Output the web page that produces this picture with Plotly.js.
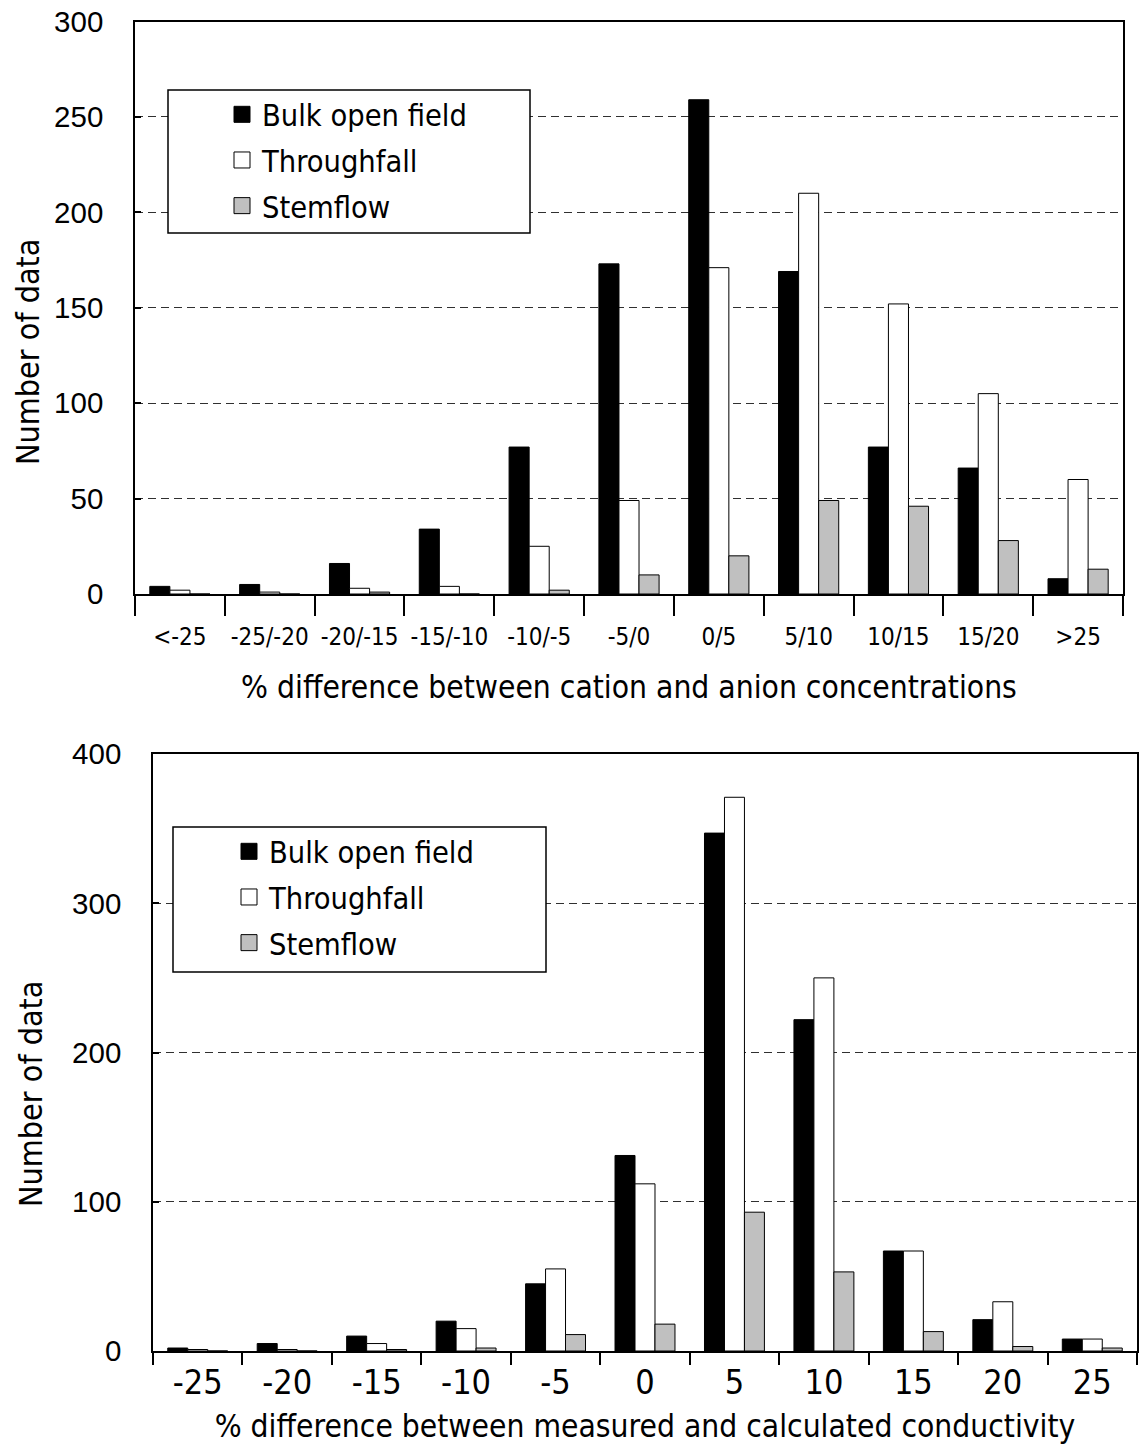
<!DOCTYPE html>
<html>
<head>
<meta charset="utf-8">
<script src="https://cdn.plot.ly/plotly-3.0.1.min.js"></script>
<style>
  html, body { margin: 0; padding: 0; background: #ffffff; }
  #chart { width: 1139px; height: 1449px; }
</style>
</head>
<body>
<div id="chart"></div>
<script>
// Ion balance: % difference between cation and anion concentrations
const ionCategories = ['<-25', '-25/-20', '-20/-15', '-15/-10', '-10/-5', '-5/0', '0/5', '5/10', '10/15', '15/20', '>25'];
const ionBulk        = [4, 5, 16, 34, 77, 173, 259, 169, 77, 66, 8];
const ionThroughfall = [2, 1, 3, 4, 25, 49, 171, 210, 152, 105, 60];
const ionStemflow    = [0, 0, 1, 0, 2, 10, 20, 49, 46, 28, 13];

// Conductivity check: % difference between measured and calculated conductivity
const condCategories = ['-25', '-20', '-15', '-10', '-5', '0', '5', '10', '15', '20', '25'];
const condBulk        = [2, 5, 10, 20, 45, 131, 347, 222, 67, 21, 8];
const condThroughfall = [1, 1, 5, 15, 55, 112, 371, 250, 67, 33, 8];
const condStemflow    = [0, 0, 1, 2, 11, 18, 93, 53, 13, 3, 2];

const seriesNames = ['Bulk open field', 'Throughfall', 'Stemflow'];
const seriesColors = ['#000000', '#ffffff', '#c0c0c0'];

const W = 1139, H = 1449;
const px = x => x / W;
const py = y => 1 - y / H;

const NARROW = '"DejaVu Sans Condensed", "Liberation Sans", sans-serif';
const REGULAR = '"Liberation Sans", Arial, sans-serif';

function barTraces(cats, values, xa, ya) {
  return values.map((v, i) => ({
    type: 'bar',
    x: cats,
    y: v,
    name: seriesNames[i],
    legendgroup: seriesNames[i] + xa,
    showlegend: false,
    xaxis: xa,
    yaxis: ya,
    marker: { color: seriesColors[i], line: { color: '#000000', width: 1 } },
    hoverinfo: 'x+y+name'
  }));
}

// Legend entries drawn as square markers so the swatches stay large
function legendTraces(xa, ya, legendId) {
  return seriesNames.map((n, i) => ({
    type: 'scatter',
    mode: 'markers',
    x: [null],
    y: [null],
    name: n,
    legendgroup: n + xa,
    legend: legendId,
    xaxis: xa,
    yaxis: ya,
    marker: { symbol: 'square', size: 16, color: seriesColors[i], line: { color: '#000000', width: 1 } },
    hoverinfo: 'skip'
  }));
}

const data = [
  ...barTraces(ionCategories, [ionBulk, ionThroughfall, ionStemflow], 'x', 'y'),
  ...legendTraces('x', 'y', 'legend'),
  ...barTraces(condCategories, [condBulk, condThroughfall, condStemflow], 'x2', 'y2'),
  ...legendTraces('x2', 'y2', 'legend2')
];

function xAxis(domain, anchor, tickSize, ticklen, labelStandoff, titleText, standoff) {
  return {
    domain: domain,
    anchor: anchor,
    type: 'category',
    tickson: 'boundaries',
    tickangle: 0,
    ticks: 'outside',
    ticklen: ticklen,
    tickwidth: 1.5,
    tickcolor: '#000000',
    ticklabelstandoff: labelStandoff,
    showline: true,
    mirror: true,
    linecolor: '#000000',
    linewidth: 1.5,
    showgrid: false,
    zeroline: false,
    tickfont: { family: NARROW, size: tickSize, color: '#000000' },
    title: { text: titleText, font: { family: NARROW, size: 31.5, color: '#000000' }, standoff: standoff },
    fixedrange: true
  };
}

function yAxis(domain, anchor, maxVal, step) {
  return {
    domain: domain,
    anchor: anchor,
    range: [0, maxVal],
    tick0: 0,
    dtick: step,
    ticks: 'inside',
    ticklen: 6,
    tickwidth: 1.5,
    tickcolor: '#000000',
    showline: true,
    mirror: true,
    linecolor: '#000000',
    linewidth: 1.5,
    showgrid: true,
    gridcolor: '#303030',
    gridwidth: 1,
    griddash: '8px,5px',
    zeroline: false,
    ticklabelstandoff: 24,
    tickfont: { family: REGULAR, size: 29.5, color: '#000000' },
    fixedrange: true
  };
}

const legendBase = {
  bgcolor: 'rgba(0,0,0,0)',
  borderwidth: 0,
  font: { family: NARROW, size: 30.5, color: '#000000' },
  tracegroupgap: 3,
  xanchor: 'left',
  yanchor: 'top',
  itemclick: false,
  itemdoubleclick: false
};

// Vertical value-axis captions, set slightly below the middle of each panel
const yCaption = (x, y) => ({
  text: 'Number of data', xref: 'paper', yref: 'paper', x: px(x), y: py(y),
  xanchor: 'center', yanchor: 'middle', textangle: -90, showarrow: false,
  font: { family: NARROW, size: 32, color: '#000000' }
});

const layout = {
  width: W,
  height: H,
  margin: { l: 0, r: 0, t: 0, b: 0 },
  paper_bgcolor: '#ffffff',
  plot_bgcolor: '#ffffff',
  barmode: 'group',
  bargap: 0.33,
  bargroupgap: 0,
  font: { family: REGULAR, color: '#000000' },
  showlegend: true,
  xaxis: xAxis([px(135), px(1123)], 'y', 24, 20, 20, '% difference between cation and anion concentrations', 26),
  yaxis: yAxis([py(594), py(21.5)], 'x', 300, 50),
  xaxis2: xAxis([px(153), px(1137)], 'y2', 34, 12, 0, '% difference between measured and calculated conductivity', 14),
  yaxis2: yAxis([py(1351), py(754)], 'x2', 400, 100),
  legend: Object.assign({}, legendBase, { x: px(222), y: py(88) }),
  legend2: Object.assign({}, legendBase, { x: px(229), y: py(825) }),
  annotations: [yCaption(28, 352), yCaption(31, 1094)],
  shapes: [
    { type: 'rect', xref: 'paper', yref: 'paper', x0: px(168), x1: px(530), y0: py(233), y1: py(90),
      line: { color: '#000000', width: 1.5 }, fillcolor: '#ffffff', layer: 'above' },
    { type: 'rect', xref: 'paper', yref: 'paper', x0: px(173), x1: px(546), y0: py(972), y1: py(827),
      line: { color: '#000000', width: 1.5 }, fillcolor: '#ffffff', layer: 'above' }
  ]
};

Plotly.newPlot('chart', data, layout, { displayModeBar: false });
</script>
</body>
</html>
